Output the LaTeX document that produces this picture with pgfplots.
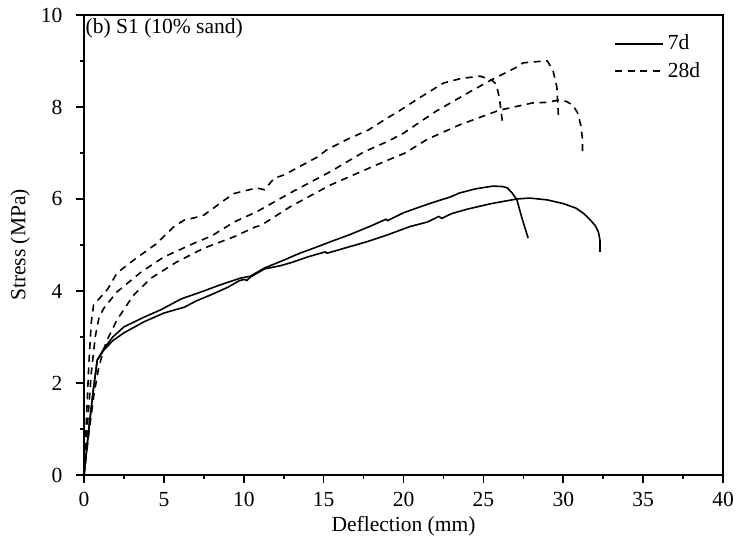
\documentclass[border=0pt]{standalone}
\usepackage{pgfplots}
\pgfplotsset{compat=1.18}
\usepackage{fontspec}
\setmainfont{Liberation Serif}
\begin{document}
\begin{tikzpicture}[font=\fontsize{10.8}{13}\selectfont]
\begin{axis}[
  scale only axis,
  width=319.5bp, height=230bp,
  xmin=0, xmax=40, ymin=0, ymax=10,
  xtick={0,5,...,40}, ytick={0,2,...,10},
  minor x tick num=1, minor y tick num=1,
  xtick pos=bottom, ytick pos=left,
  tick align=outside,
  major tick length=3.8bp, minor tick length=2bp,
  every tick/.style={black, line width=0.8bp},
  axis line style={line width=0.8bp},
  /pgf/number format/assume math mode=true,
  yticklabel style={xshift=-3.5bp},
  xticklabel style={yshift=-1.5bp},
  xlabel={Deflection (mm)}, ylabel={Stress (MPa)},
  x label style={at={(axis description cs:0.5,-0.112)}, anchor=center},
  y label style={at={(axis description cs:-0.1,0.5)}, anchor=center, rotate=0},
  legend style={at={(rel axis cs:0.829,0.966)}, anchor=north west, draw=none, fill=none,
    row sep=0.6bp, inner sep=0pt, nodes={inner sep=2bp}},
  legend cell align=left,
  legend image code/.code={\draw[#1] (0bp,0bp) -- (24bp,0bp);},
  every axis plot/.append style={black, line width=0.8bp},
]
\addplot[solid] coordinates {(0,0) (0.3,1.0) (0.6,1.9) (0.83,2.5) (1.25,2.75) (1.8,3.0) (2.5,3.22) (3.75,3.43) (4.8,3.59) (6.1,3.83) (7.5,4.0) (8.5,4.13) (9.8,4.28) (10.4,4.32) (11.3,4.5) (12.5,4.67) (13.5,4.82) (14.6,4.96) (15.5,5.08) (16.6,5.22) (18.0,5.42) (18.9,5.56) (19.0,5.53) (20.0,5.7) (20.8,5.8) (21.8,5.92) (22.9,6.04) (23.5,6.13) (24.5,6.22) (25.6,6.28) (26.2,6.27) (26.5,6.24) (26.8,6.13) (27.1,5.98) (27.4,5.6) (27.8,5.15)};
\addlegendentry{7d}
\addplot[dash pattern=on 3.5bp off 2.8bp] coordinates {(0,0) (0.15,1.2) (0.3,2.4) (0.45,3.3) (0.6,3.7) (1.0,3.85) (1.5,4.05) (2.06,4.39) (3.1,4.67) (4.5,5.02) (5.6,5.39) (6.26,5.54) (6.9,5.59) (7.5,5.65) (8.1,5.8) (8.8,5.98) (9.4,6.12) (10.8,6.24) (11.3,6.2) (11.9,6.45) (12.5,6.52) (14.6,6.91) (15.2,7.07) (16.5,7.3) (17.8,7.5) (18.8,7.72) (19.8,7.93) (21.0,8.2) (22.5,8.52) (23.6,8.62) (24.8,8.67) (25.5,8.59) (25.8,8.5) (26.0,8.2) (26.2,7.65)};
\addlegendentry{28d}
\addplot[solid, forget plot] coordinates {(0,0) (0.3,1.0) (0.6,1.9) (0.83,2.5) (1.25,2.72) (1.8,2.92) (2.5,3.09) (3.75,3.33) (5.0,3.52) (6.3,3.65) (7.0,3.78) (7.9,3.91) (9.0,4.08) (9.7,4.22) (10.0,4.25) (10.2,4.23) (10.4,4.3) (11.3,4.48) (12.3,4.55) (13.0,4.62) (14.0,4.74) (15.1,4.85) (15.2,4.82) (16.5,4.95) (17.7,5.07) (19.0,5.22) (20.4,5.4) (21.5,5.5) (22.2,5.62) (22.4,5.58) (23.0,5.68) (24.0,5.78) (25.5,5.9) (27.1,6.0) (27.9,6.02) (29.0,5.98) (30.0,5.9) (30.8,5.8) (31.3,5.68) (31.7,5.54) (32.0,5.42) (32.2,5.28) (32.3,5.1) (32.3,4.85)};
\addplot[dash pattern=on 3.5bp off 2.8bp, forget plot] coordinates {(0,0) (0.2,1.0) (0.45,2.2) (0.7,3.0) (0.94,3.43) (1.25,3.63) (2.06,3.98) (3.57,4.41) (5.0,4.74) (6.9,5.04) (8.0,5.2) (9.4,5.5) (10.8,5.72) (12.9,6.13) (15.4,6.59) (17.5,7.02) (19.0,7.25) (20.0,7.43) (22.0,7.9) (24.0,8.3) (25.5,8.59) (27.0,8.85) (27.5,8.96) (28.85,9.0) (29.0,9.0) (29.35,8.8) (29.6,8.43) (29.7,7.78)};
\addplot[dash pattern=on 3.5bp off 2.8bp, forget plot] coordinates {(0,0) (0.3,0.9) (0.6,1.7) (0.9,2.3) (1.2,2.7) (1.44,2.93) (2.06,3.37) (3.1,3.91) (4.2,4.28) (5.8,4.63) (7.5,4.93) (9.4,5.18) (10.7,5.39) (11.1,5.43) (12.9,5.83) (15.4,6.3) (18.3,6.74) (20.1,7.0) (21.5,7.3) (23.5,7.61) (26.0,7.93) (28.1,8.09) (29.0,8.1) (29.7,8.15) (30.2,8.12) (30.6,8.04) (30.9,7.87) (31.1,7.6) (31.2,7.3) (31.2,6.96)};
\node[anchor=west, inner sep=0pt] at (rel axis cs:0.002,0.971) {(b) S1 (10\% sand)};
\coordinate (bbl) at (rel axis cs:-0.1315,-0.1543);
\coordinate (btr) at (rel axis cs:1.0203,1.0326);
\end{axis}
\pgfresetboundingbox
\path (bbl) rectangle (btr);
\end{tikzpicture}
\end{document}
